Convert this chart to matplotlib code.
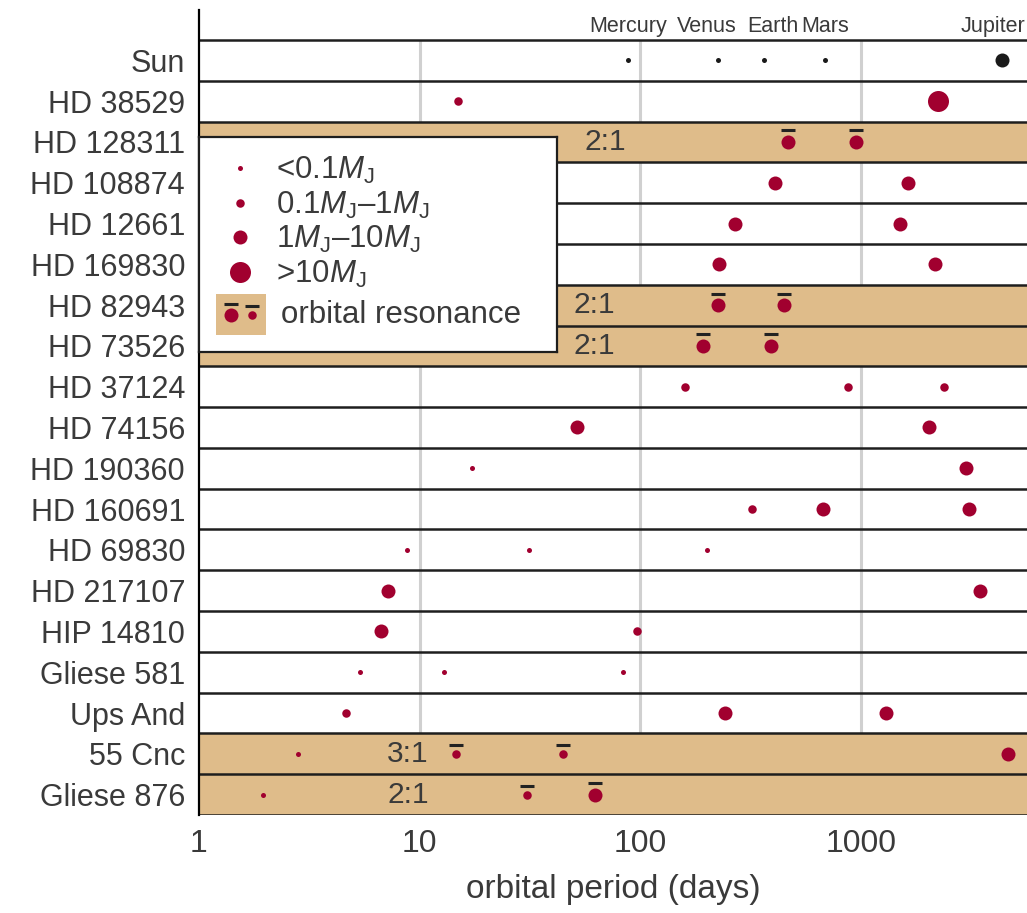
import numpy as np
import matplotlib
matplotlib.use('Agg')
import matplotlib.pyplot as plt
from matplotlib import transforms as mtransforms
from matplotlib.patches import Rectangle
from matplotlib.ticker import NullLocator

plt.rcParams['font.family'] = ['Liberation Sans', 'DejaVu Sans']
plt.rcParams['mathtext.fontset'] = 'custom'
plt.rcParams['mathtext.rm'] = 'Liberation Sans'
plt.rcParams['mathtext.it'] = 'Liberation Sans:italic'

# systems, top to bottom
stars = ['Sun', 'HD 38529', 'HD 128311', 'HD 108874', 'HD 12661', 'HD 169830',
         'HD 82943', 'HD 73526', 'HD 37124', 'HD 74156', 'HD 190360', 'HD 160691',
         'HD 69830', 'HD 217107', 'HIP 14810', 'Gliese 581', 'Ups And', '55 Cnc',
         'Gliese 876']

# orbital periods (days) of each planet
periods = [
    [88, 225, 365, 687, 4333],
    [14.9, 2230],
    [466, 948],
    [407, 1633],
    [268, 1500],
    [227, 2160],
    [224, 448],
    [192, 391],
    [159, 873, 2375],
    [51.6, 2032],
    [17.3, 2987],
    [321, 673, 3083],
    [8.76, 31.3, 200],
    [7.18, 3458],
    [6.68, 96.6],
    [5.36, 12.9, 83.4],
    [4.63, 242, 1297],
    [2.81, 14.6, 44.6, 4630],
    [1.95, 30.6, 62.3],
]

# mass class: 0 <0.1 MJ, 1 0.1-1 MJ, 2 1-10 MJ, 3 >10 MJ
mass_class = [
    [0, 0, 0, 0, 2],
    [1, 3],
    [2, 2],
    [2, 2],
    [2, 2],
    [2, 2],
    [2, 2],
    [2, 2],
    [1, 1, 1],
    [2, 2],
    [0, 2],
    [1, 2, 2],
    [0, 0, 0],
    [2, 2],
    [2, 1],
    [0, 0, 0],
    [1, 2, 2],
    [0, 1, 1, 2],
    [0, 1, 2],
]

# planets locked in mean-motion resonance (row -> planet indices)
resonant = {2: [0, 1], 6: [0, 1], 7: [0, 1], 17: [1, 2], 18: [1, 2]}
ratios = {2: '2:1', 6: '2:1', 7: '2:1', 17: '3:1', 18: '2:1'}
ratio_x = {2: 69, 6: 62, 7: 62, 17: 8.85, 18: 8.85}

solar_names = ['Mercury', 'Venus', 'Earth', 'Mars', 'Jupiter']
name_shift = [0, -8, 6, 0, 0]   # points, keeps Venus/Earth apart
ticks = [1, 10, 100, 1000]
tick_labels = ['1', '10', '100', '1000']

MJ = r'$M_\mathrm{J}$'
legend_labels = ['<0.1' + MJ, '0.1' + MJ + '–1' + MJ, '1' + MJ + '–10' + MJ, '>10' + MJ]

red = '#a1002f'
tan = '#dfbc8a'
ink = '#3a3a3a'
line = '#1e1e1e'
dot_px = [5, 8.5, 14, 21]
ms = [d * 0.72 for d in dot_px]

W, H = 1027, 913
fig = plt.figure(figsize=(W / 100, H / 100), dpi=100)
ax = fig.add_axes([199 / W, (H - 815) / H, 828 / W, 805 / H])
ax.set_xscale('log')
xmax = 10 ** (828 / 220.7)
ax.set_xlim(1, xmax)
ax.set_ylim(18.5, -0.5 - 30 / 40.79)

for i in ratios:
    ax.axhspan(i - 0.5, i + 0.5, color=tan, lw=0, zorder=1)
    ax.text(ratio_x[i], i, ratios[i], ha='center', va='center', fontsize=21.5,
            color=ink, zorder=3)

ax.vlines(ticks[1:], -0.5, 18.58, color='#d0d0d0', lw=2.2, zorder=0.5)
for y in np.arange(-0.5, 19):
    ax.axhline(y, color=line, lw=1.8, zorder=2)


def dash_above(a, x, y, c):
    off = mtransforms.offset_copy(a.transData, fig=fig, x=0,
                                  y=(dot_px[c] / 2 + 4.5) * 0.72, units='points')
    a.plot([x], [y], marker='_', ms=10, mew=2.2, color='#222222',
           transform=off, zorder=4)


for i, (ps, cs) in enumerate(zip(periods, mass_class)):
    col = '#1a1a1a' if i == 0 else red
    for j, (p, c) in enumerate(zip(ps, cs)):
        ax.plot([p], [i], 'o', ms=ms[c], mew=0, color=col, zorder=4)
        if j in resonant.get(i, []):
            dash_above(ax, p, i, c)

# solar system names in the header strip
for name, p, dx in zip(solar_names, periods[0], name_shift):
    if name == 'Jupiter':
        ax.text(0.998, -0.69, name, ha='right', va='baseline', fontsize=15.5, color=ink,
                transform=mtransforms.blended_transform_factory(ax.transAxes, ax.transData))
    else:
        ax.annotate(name, (p, -0.69), xytext=(dx, 0), textcoords='offset points',
                    ha='center', va='baseline', fontsize=15.5, color=ink)

ax.set_xticks(ticks)
ax.set_xticklabels(tick_labels)
ax.xaxis.set_minor_locator(NullLocator())
ax.set_yticks(range(len(stars)))
ax.set_yticklabels(stars)
ax.tick_params(axis='x', length=0, pad=10, labelsize=23, labelcolor=ink)
ax.tick_params(axis='y', length=0, pad=10, labelsize=22, labelcolor=ink)
ax.set_xlabel('orbital period (days)', fontsize=24, color=ink, labelpad=11)

for s in ['top', 'right', 'bottom']:
    ax.spines[s].set_visible(False)
ax.spines['left'].set_linewidth(1.6)
ax.spines['left'].set_color('black')

# legend panel
lax = fig.add_axes([199 / W, (H - 352) / H, 358 / W, 215 / H])
lax.set_xlim(0, 358)
lax.set_ylim(215, 0)
lax.set_xticks([])
lax.set_yticks([])
lax.set_facecolor('white')
for s in lax.spines.values():
    s.set_linewidth(1.6)
    s.set_color(line)

for k, (lab, y) in enumerate(zip(legend_labels, [31, 66, 100, 135])):
    lax.plot([41], [y], 'o', ms=ms[k], mew=0, color=red)
    lax.text(77, y + 2, lab, ha='left', va='center', fontsize=22.5, color=ink)

lax.add_patch(Rectangle((17, 157), 50, 41, color=tan, lw=0))
for x, c in [(32, 2), (53, 1)]:
    lax.plot([x], [178], 'o', ms=ms[c], mew=0, color=red)
    dash_above(lax, x, 178, c)
lax.text(82, 178, 'orbital resonance', ha='left', va='center', fontsize=22.5, color=ink)

fig.savefig('out.png', dpi=100)
